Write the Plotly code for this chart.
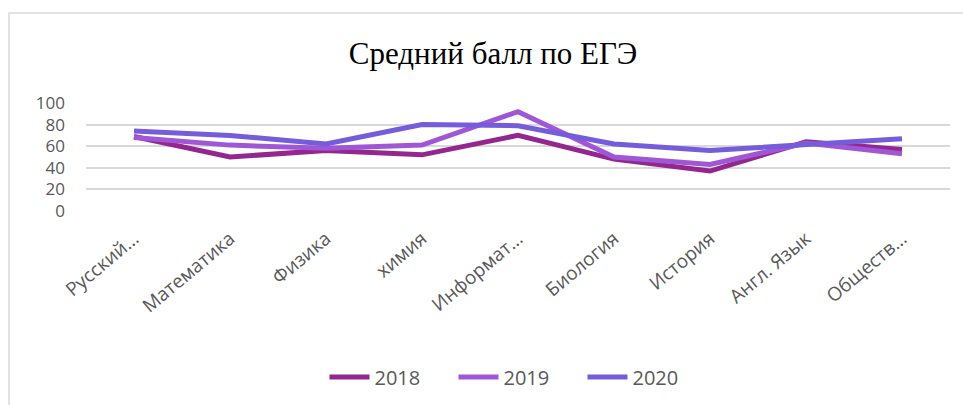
import plotly.graph_objects as go

categories = ["Русский…", "Математика", "Физика", "химия", "Информат…",
              "Биология", "История", "Англ. Язык", "Обществ…"]
y2018 = [69, 50, 56, 52, 70, 48, 37, 64, 57]
y2019 = [68, 61, 58, 61, 92, 50, 43, 63, 53]
y2020 = [74, 70, 62, 80, 79, 62, 56, 62, 67]
series_names = ["2018", "2019", "2020"]
colors = ["#93278F", "#A057D6", "#755CDA"]

W, H = 963, 405
L, R, T, B = 86, 13, 103, 194
ph = H - T - B

fig = go.Figure()
for name, vals, c in zip(series_names, [y2018, y2019, y2020], colors):
    fig.add_trace(go.Scatter(x=categories, y=vals, mode="lines", name=name,
                             line=dict(color=c, width=5)))

fig.update_layout(
    width=W, height=H,
    margin=dict(l=L, r=R, t=T, b=B, autoexpand=False),
    paper_bgcolor="white", plot_bgcolor="white",
    title=dict(text="Средний балл по ЕГЭ", x=0.512, xanchor="center",
               y=1 - 53 / H, yanchor="middle", yref="container",
               font=dict(family="Liberation Serif, serif", size=31, color="#000000")),
    font=dict(family="Open Sans, Calibri, sans-serif", color="#595959"),
    showlegend=True,
    legend=dict(orientation="h", x=0.5, xanchor="center",
                y=(211 - 377) / ph, yanchor="middle",
                font=dict(size=20, color="#595959"), itemwidth=40,
                entrywidth=74, tracegroupgap=0),
    xaxis=dict(type="category", showgrid=False, zeroline=False, showline=False,
               tickangle=-40, tickfont=dict(size=19, color="#595959"),
               ticks="", ticklabelstandoff=12, automargin=False,
               range=[-0.5, len(categories) - 0.5]),
    yaxis=dict(range=[0, 100], dtick=20, showgrid=True, gridcolor="#D9D9D9",
               gridwidth=1.5, zeroline=False, showline=False, ticks="",
               automargin=False,
               tickfont=dict(size=17, color="#595959"), ticklabelstandoff=20),
)

# chart border (left and top visible)
pw = W - L - R
fig.add_shape(type="rect", xref="paper", yref="paper",
              x0=(9 - L) / pw, x1=(975 - L) / pw,
              y0=(211 - 420) / ph, y1=(211 - 13) / ph,
              line=dict(color="#D9D9D9", width=1.5), fillcolor="rgba(0,0,0,0)",
              layer="below")

fig.write_html("out.html", config={"displayModeBar": False},
               post_script="document.body.style.margin='0';")
